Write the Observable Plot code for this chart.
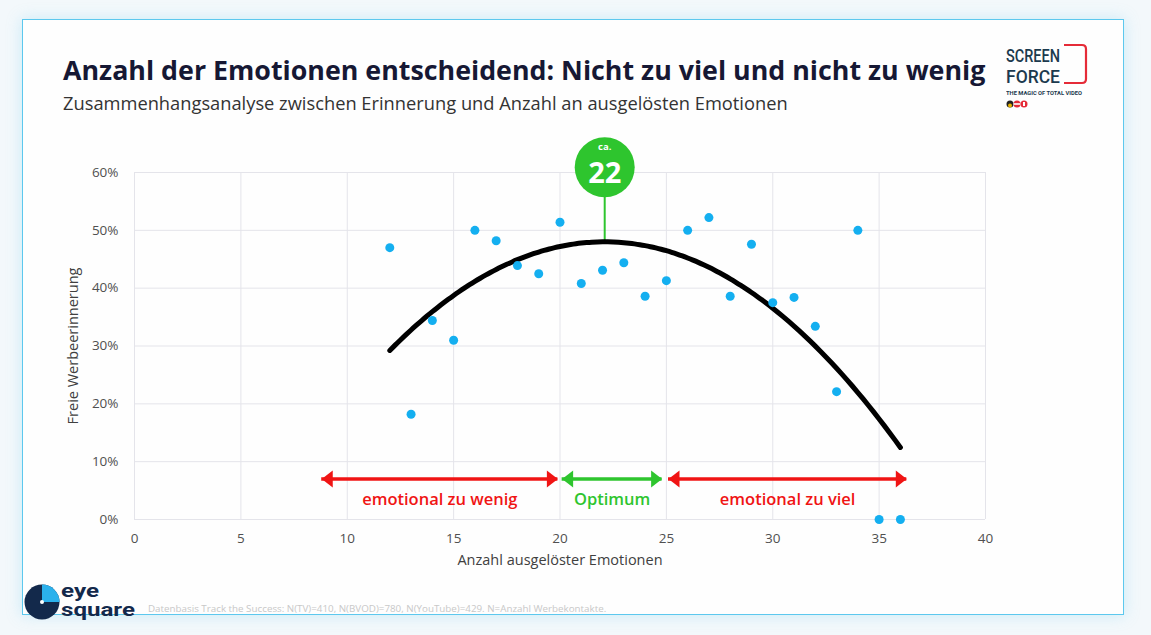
<!DOCTYPE html>
<html><head><meta charset="utf-8">
<script src="https://cdn.jsdelivr.net/npm/d3@7"></script>
<script src="https://cdn.jsdelivr.net/npm/@observablehq/plot@0.6"></script>
<style>
html,body{margin:0;padding:0;width:1151px;height:635px;overflow:hidden;background:#f3f8fb;font-family:"Open Sans",sans-serif;}
#card{position:absolute;left:22px;top:19px;width:1100px;height:594px;background:#fefefe;border:1.5px solid #5cc8ee;box-shadow:0 0 14px rgba(120,210,240,0.35);}
#title{position:absolute;left:63px;top:51px;font-size:26.8px;font-weight:700;color:#161834;white-space:nowrap;}
#subtitle{position:absolute;left:63px;top:90px;font-size:18.3px;color:#333;white-space:nowrap;}
#chart{position:absolute;left:0;top:130px;}
#foot{position:absolute;left:148px;top:602px;font-size:9.8px;color:#c8c8c8;white-space:nowrap;}
#sf{position:absolute;left:1006px;top:43px;}
#es{position:absolute;left:24px;top:581px;}
</style></head>
<body>
<div id="card"></div>
<div id="title">Anzahl der Emotionen entscheidend: Nicht zu viel und nicht zu wenig</div>
<div id="subtitle">Zusammenhangsanalyse zwischen Erinnerung und Anzahl an ausgelösten Emotionen</div>
<div id="sf">
<svg width="84" height="68" viewBox="0 0 84 68">
<text x="0" y="19" font-family="Roboto, sans-serif" font-size="19" font-weight="500" fill="#1c3a4e" textLength="54" lengthAdjust="spacingAndGlyphs">SCREEN</text>
<text x="0" y="40" font-family="Roboto, sans-serif" font-size="19" font-weight="500" fill="#1c3a4e" textLength="54" lengthAdjust="spacingAndGlyphs">FORCE</text>
<path d="M58 2 H76 Q80 2 80 6 V36 Q80 40 76 40 H58" fill="none" stroke="#e52b38" stroke-width="2.2"/>
<text x="0" y="52" font-family="Roboto, sans-serif" font-size="5.5" font-weight="700" fill="#1c3a4e" textLength="76" lengthAdjust="spacingAndGlyphs">THE MAGIC OF TOTAL VIDEO</text>
<circle cx="4" cy="61" r="3.5" fill="#222"/><circle cx="4" cy="62.5" r="2" fill="#e8b400"/>
<circle cx="11" cy="61" r="3.5" fill="#e52b38"/><rect x="7.5" y="60.2" width="7" height="1.6" fill="#fff"/>
<circle cx="18" cy="61" r="3.5" fill="#e52b38"/><rect x="17" y="59" width="2" height="4" fill="#fff"/>
</svg></div>
<div id="chart"></div>
<div id="es">
<svg width="120" height="42" viewBox="0 0 120 42">
<circle cx="18" cy="21" r="17.5" fill="#13294b"/>
<path d="M18 21 V3.5 A17.5 17.5 0 0 1 35.5 21 Z" fill="#2bb1ec"/>
<circle cx="18" cy="21" r="2" fill="#fff"/>
<text x="37" y="16" font-family="Roboto, sans-serif" font-size="18" font-weight="700" fill="#13294b" textLength="38" lengthAdjust="spacingAndGlyphs">eye</text>
<text x="37" y="35" font-family="Roboto, sans-serif" font-size="18" font-weight="700" fill="#13294b" textLength="74" lengthAdjust="spacingAndGlyphs">square</text>
</svg></div>
<div id="foot">Datenbasis Track the Success: N(TV)=410, N(BVOD)=780, N(YouTube)=429. N=Anzahl Werbekontakte.</div>
<script>
// Data
const emotions = [12,13,14,15,16,17,18,19,20,21,22,23,24,25,26,27,28,29,30,31,32,33,34,35,36];
const recall   = [47.0,18.2,34.4,31.0,50.0,48.2,43.9,42.5,51.4,40.8,43.1,44.4,38.6,41.3,50.0,52.2,38.6,47.6,37.5,38.4,33.4,22.1,50.0,0,0];
const xTicks = [0,5,10,15,20,25,30,35,40];
const yTicks = [0,10,20,30,40,50,60];
const xLabel = "Anzahl ausgelöster Emotionen";
const yLabel = "Freie Werbeerinnerung";
const optimumLabel = "22";
const zoneStart = [8.8, 20.1, 25.1];
const zoneEnd   = [19.9, 24.8, 36.3];
const zoneLabel = ["emotional zu wenig", "Optimum", "emotional zu viel"];
const zoneColor = ["#f01414", "#2ec52e", "#f01414"];
const arrowY = 7.0, labelY = 3.5;

const pts = emotions.map((x,i) => ({x, y: recall[i]}));
const zones = zoneLabel.map((label,i) => ({x1: zoneStart[i], x2: zoneEnd[i], label, color: zoneColor[i]}));

// quadratic least-squares trendline (polynomial trendline of order 2)
function quadFit(P){
  let S=[0,0,0,0,0], T=[0,0,0];
  for(const p of P){ let xp=1; for(let k=0;k<5;k++){S[k]+=xp; if(k<3) T[k]+=xp*p.y; xp*=p.x;} }
  const A=[[S[0],S[1],S[2],T[0]],[S[1],S[2],S[3],T[1]],[S[2],S[3],S[4],T[2]]];
  for(let i=0;i<3;i++){ for(let j=i+1;j<3;j++){ const f=A[j][i]/A[i][i]; for(let k=i;k<4;k++) A[j][k]-=f*A[i][k]; } }
  const c=[0,0,0];
  for(let i=2;i>=0;i--){ let s=A[i][3]; for(let k=i+1;k<3;k++) s-=A[i][k]*c[k]; c[i]=s/A[i][i]; }
  return c;
}
const [c0,c1,c2] = quadFit(pts);
const xMin = d3.min(emotions), xMax = d3.max(emotions);
const trend = d3.range(xMin, xMax + 0.001, 0.25).map(x => ({x, y: c0 + c1*x + c2*x*x}));
const peakX = -c1/(2*c2), peakY = c0 + c1*peakX + c2*peakX*peakX;

// filled arrow head pointing right, tip at origin
const head = {draw(ctx){ ctx.moveTo(0,0); ctx.lineTo(-11,-8.5); ctx.lineTo(-11,8.5); ctx.closePath(); }};
const heads = zones.flatMap(z => [{x: z.x2, rot: 0, color: z.color}, {x: z.x1, rot: 180, color: z.color}]);

const chart = Plot.plot({
  width: 1151, height: 450,
  marginLeft: 134, marginRight: 166, marginTop: 42, marginBottom: 61,
  style: {fontFamily: "Open Sans, sans-serif", background: "transparent", overflow: "visible"},
  x: {domain: [0,40]},
  y: {domain: [0,60]},
  marks: [
    Plot.gridX(xTicks, {stroke: "#e4e4ea", strokeOpacity: 1, strokeWidth: 1}),
    Plot.gridY(yTicks, {stroke: "#e4e4ea", strokeOpacity: 1, strokeWidth: 1}),
    Plot.axisX(xTicks, {tickSize: 0, tickPadding: 14, fontSize: 13.5, color: "#505050", label: null}),
    Plot.axisY(yTicks, {tickSize: 0, tickPadding: 16, fontSize: 13.5, color: "#505050", tickFormat: d => d + "%", label: null}),
    Plot.text([xLabel], {frameAnchor: "bottom", dy: 45, fontSize: 14.5, fill: "#404040"}),
    Plot.text([yLabel], {frameAnchor: "left", textAnchor: "middle", dx: -61, rotate: -90, fontSize: 14.5, fill: "#404040"}),
    Plot.ruleY(zones, {x1: "x1", x2: "x2", y: arrowY, stroke: "color", strokeWidth: 3.5}),
    Plot.dot(heads, {x: "x", y: arrowY, symbol: head, rotate: "rot", fill: "color", stroke: "none", r: 5}),
    Plot.text(zones, {x: d => (d.x1+d.x2)/2, y: labelY, text: "label", fill: "color", fontSize: 16.5, fontWeight: 600}),
    Plot.ruleX([peakX], {y1: peakY, y2: 59, stroke: "#2ec52e", strokeWidth: 2}),
    Plot.line(trend, {x: "x", y: "y", stroke: "#000", strokeWidth: 5, strokeLinecap: "round", curve: "natural"}),
    Plot.dot(pts, {x: "x", y: "y", r: 4.5, fill: "#14aff0", stroke: "none"}),
    Plot.dot([{x: peakX, y: 60.9}], {x: "x", y: "y", r: 30, fill: "#2ec52e", clip: false}),
    Plot.text([{x: peakX, y: 60.9}], {x: "x", y: "y", text: () => "ca.", dy: -20, fill: "#fff", fontSize: 9.5, fontWeight: 700}),
    Plot.text([{x: peakX, y: 60.9}], {x: "x", y: "y", text: () => optimumLabel, dy: 6, fill: "#fff", fontSize: 29, fontWeight: 700})
  ]
});
document.getElementById("chart").appendChild(chart);
</script>
</body></html>
